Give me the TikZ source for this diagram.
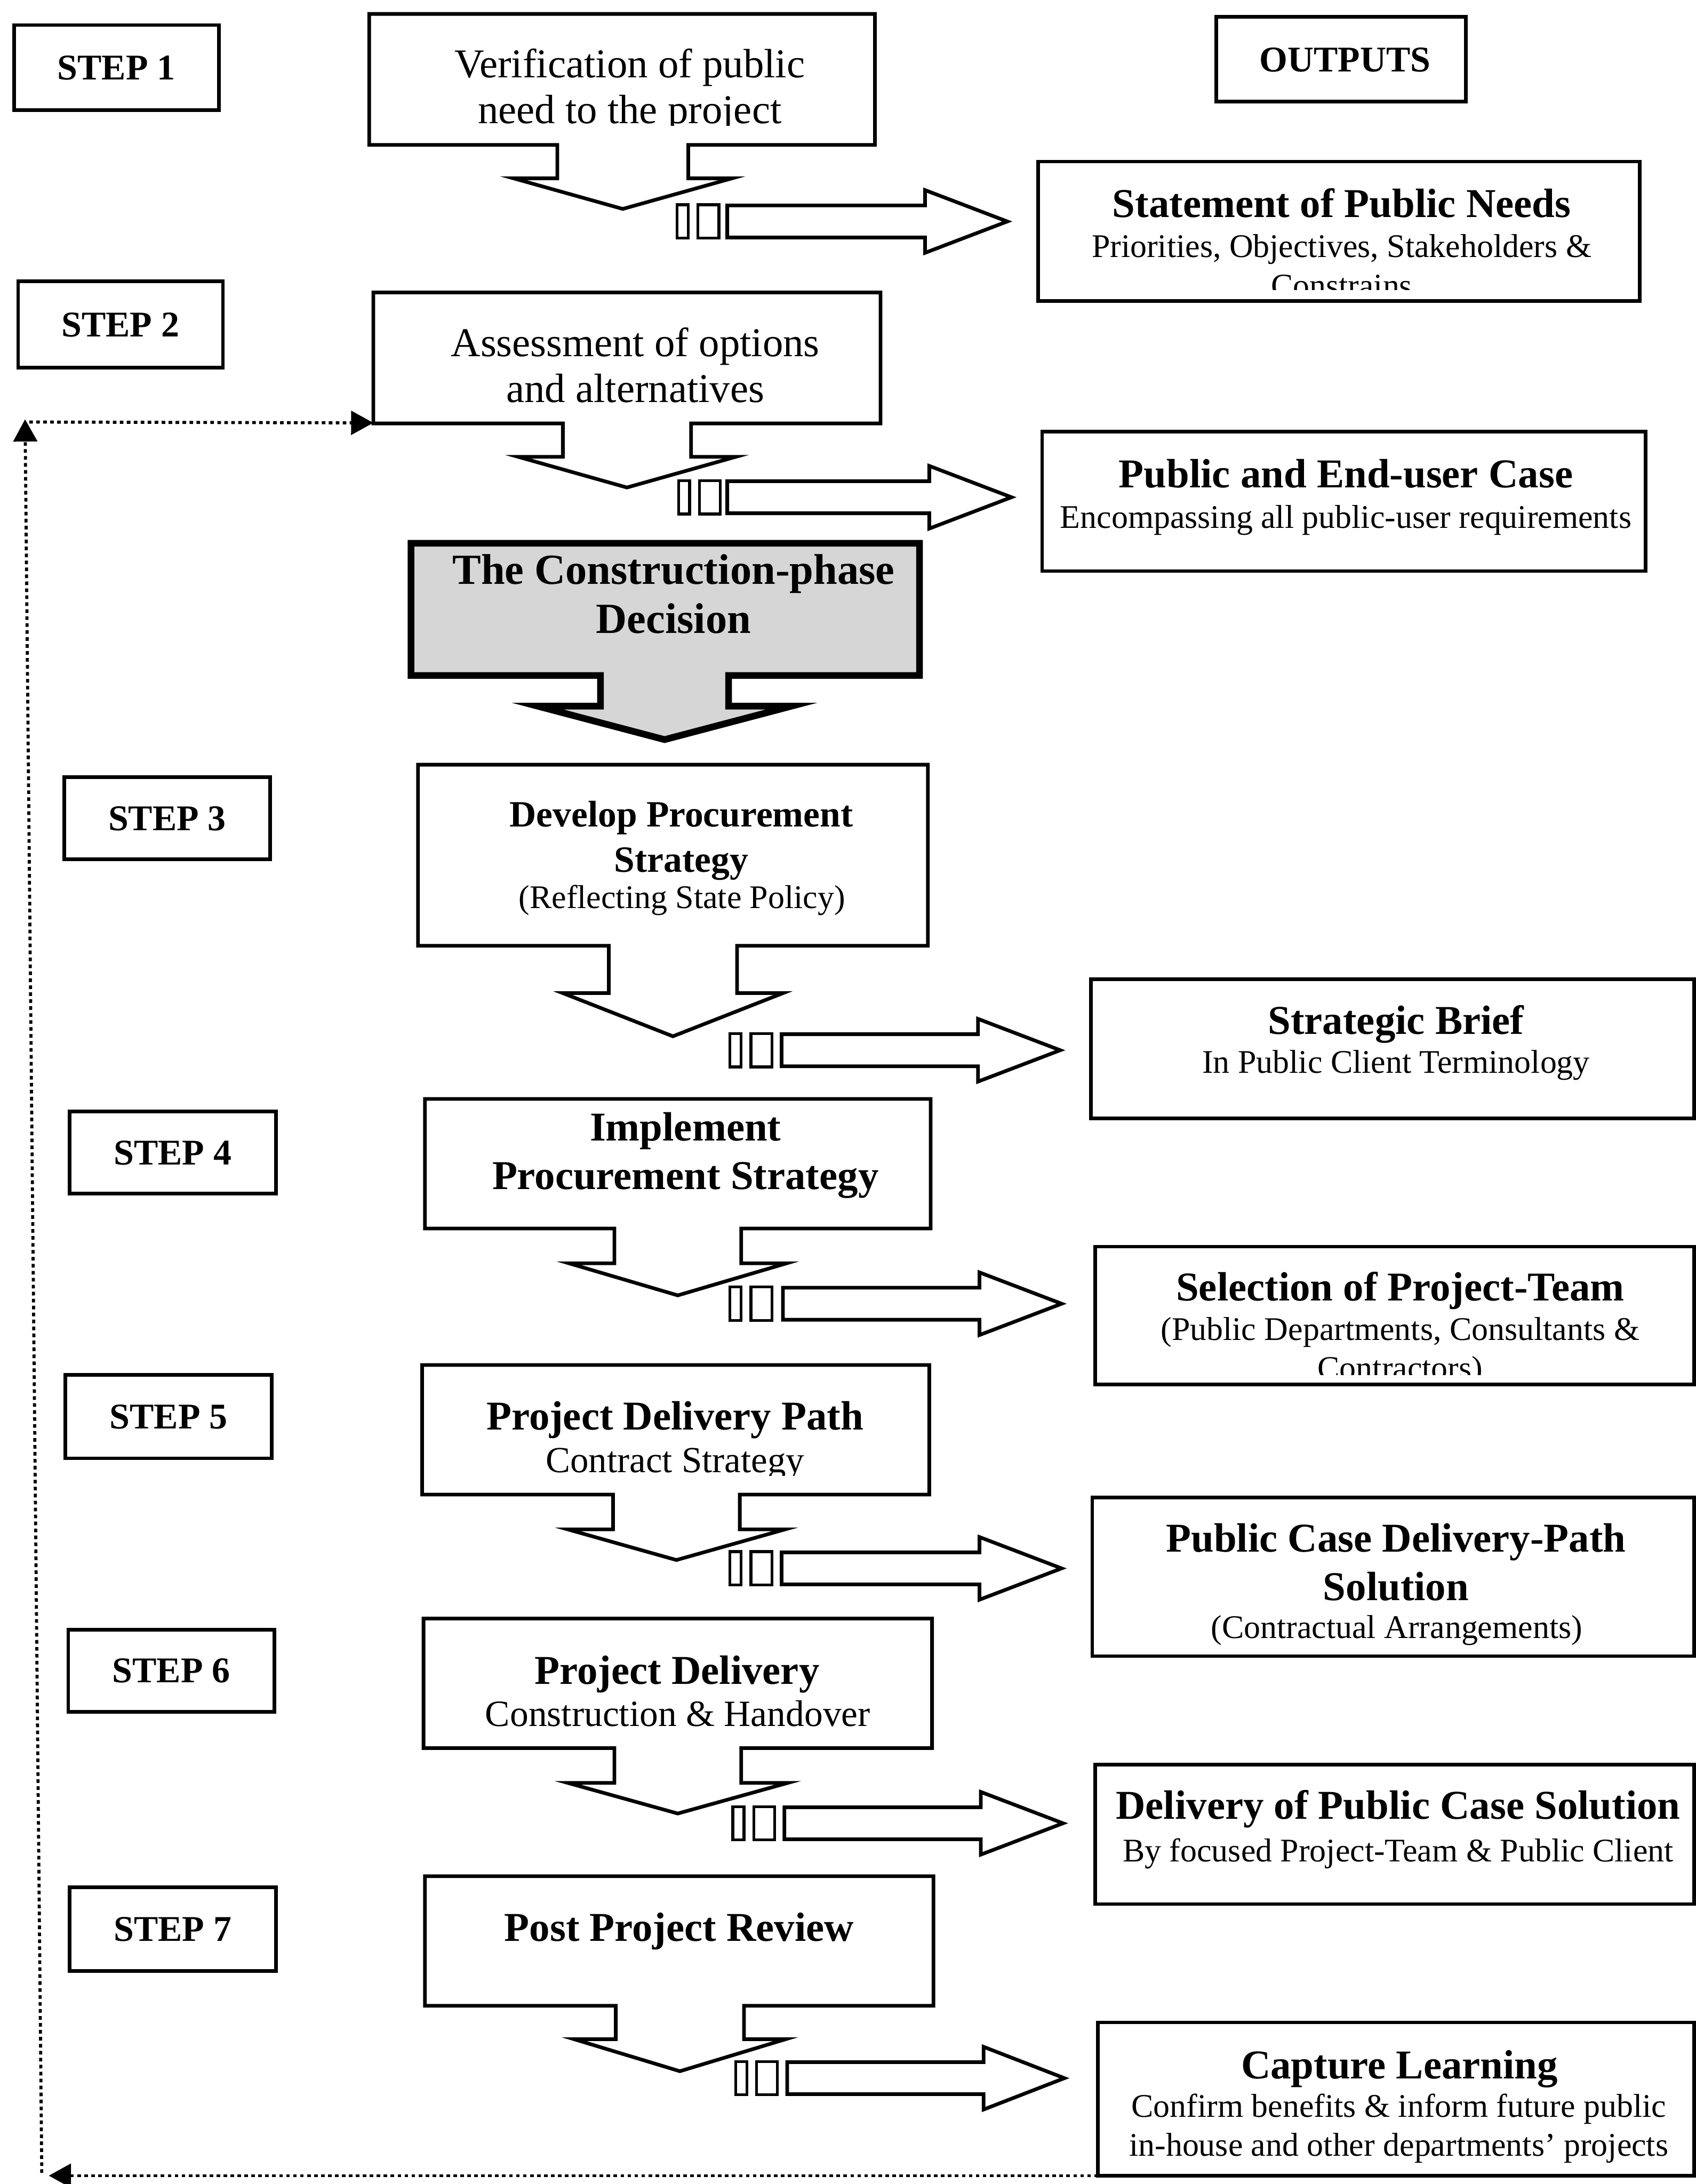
\documentclass[tikz,border=0pt]{standalone}
\usepackage{fontspec}
\setmainfont{Liberation Serif}
\usetikzlibrary{arrows.meta,fit}

% font size helper
\newcommand\fsz[1]{\fontsize{#1}{#1}\selectfont}

% a process box whose bottom edge turns into a downward block arrow
% #1 style, #2 left, #3 right, #4 top, #5 bottom, #6 arrow axis x,
% #7 wing y, #8 tip y, #9 stem half width; \winghalf = half span of the head
\def\winghalf{78}
\newcommand\flowbox[9]{%
  \draw[#1] (#2,#4) -- (#3,#4) -- (#3,#5) -- ({#6+#9},#5) -- ({#6+#9},#7)
    -- ({#6+\winghalf},#7) -- (#6,#8) -- ({#6-\winghalf},#7) -- ({#6-#9},#7)
    -- ({#6-#9},#5) -- (#2,#5) -- cycle;}

% two small bars followed by a block arrow pointing right
% #1 shaft start x, #2 head back x, #3 tip x, #4 axis y, #5 first bar left x
\newcommand\outarrow[5]{%
  \draw[barline] (#5,{#4-12}) rectangle ({#5+8},{#4+12});
  \draw[barline] ({#5+15},{#4-12}) rectangle ({#5+30},{#4+12});
  \draw[boxline] (#1,{#4-11.5}) -- (#2,{#4-11.5}) -- (#2,{#4-22.5}) -- (#3,#4)
    -- (#2,{#4+22.5}) -- (#2,{#4+11.5}) -- (#1,{#4+11.5}) -- cycle;}

\tikzset{
  every node/.style={inner sep=0pt, outer sep=0pt},
  boxline/.style={draw=black, line width=1.3pt, line join=miter, fill=white},
  barline/.style={draw=black, line width=1pt, fill=white},
  keybox/.style={draw=black, line width=2.4pt, line join=miter, fill=black!16},
  obox/.style={draw=black, line width=1.3pt, fill=white},
  stepbox/.style={draw=black, line width=1.3pt, fill=white},
  stp/.style={anchor=base, font=\fsz{13}\bfseries},
  big/.style={anchor=base, font=\fsz{14.7}},
  ttl/.style={anchor=base, font=\fsz{14.7}\bfseries},
  sub/.style={anchor=base, font=\fsz{11.85}},
  fb/.style={line width=1.1pt, dash pattern=on 1.3pt off 1.2pt},
  fbtip/.style={-{Triangle[length=8pt,width=8.5pt]}},
}

\begin{document}
\begin{tikzpicture}[x=0.5pt, y=-0.5pt]
\fill[white] (0,0) rectangle (1217,1568);
\useasboundingbox (0,0) rectangle (1217,1568);

% ---------- step labels ----------
\node[stepbox, fit={(10,18) (157,79)}] (s1) {};
\node[stepbox, fit={(13,202) (160,264)}] (s2) {};
\node[stepbox, fit={(46,558) (194,617)}] (s3) {};
\node[stepbox, fit={(50,798) (198,857)}] (s4) {};
\node[stepbox, fit={(47,987) (195,1047)}] (s5) {};
\node[stepbox, fit={(49,1170) (197,1229)}] (s6) {};
\node[stepbox, fit={(50,1355) (198,1415)}] (s7) {};
\node[stp] (s1t) at (83.5,57.1) {STEP 1};
\node[stp] (s2t) at (86.5,241.6) {STEP 2};
\node[stp] (s3t) at (120,596.1) {STEP 3};
\node[stp] (s4t) at (124,836.1) {STEP 4};
\node[stp] (s5t) at (121,1025.6) {STEP 5};
\node[stp] (s6t) at (123,1208.1) {STEP 6};
\node[stp] (s7t) at (124,1393.6) {STEP 7};

% ---------- process column ----------
\def\winghalf{78.5}
\flowbox{boxline}{265}{628}{10}{104}{447}{128}{150}{47}
\def\winghalf{78}
\flowbox{boxline}{268}{632}{210}{304}{450}{328}{350}{46}
\def\winghalf{91}
\flowbox{keybox}{295}{660}{390}{485}{477}{507}{531}{46}
\def\winghalf{79}
\flowbox{boxline}{300}{666}{549}{679}{483}{713}{744}{46}
\def\winghalf{78}
\flowbox{boxline}{305}{668}{789}{882}{486.5}{907}{930}{45.5}
\flowbox{boxline}{303}{667}{980}{1073}{485.5}{1098}{1120}{45.5}
\def\winghalf{79}
\flowbox{boxline}{304}{669}{1162}{1255}{486.5}{1280}{1302}{45.5}
\def\winghalf{76}
\flowbox{boxline}{305}{670}{1347}{1440}{488}{1464}{1487}{46}

\node[big] (v1) at (452,55.8) {Verification of public};
\begin{scope}
  \clip (266,11) rectangle (627,90);
  \node[big] (v2) at (452,88.6) {need to the project};
\end{scope}
\node[big] (a1) at (456,256) {Assessment of options};
\node[big] (a2) at (456,289) {and alternatives};
\node[anchor=base, font=\fsz{15.4}\bfseries] (c1) at (483.5,419.5) {The Construction-phase};
\node[anchor=base, font=\fsz{15.4}\bfseries] (c2) at (483.5,454.5) {Decision};
\node[anchor=base, font=\fsz{13.3}\bfseries] (d1) at (489,593.7) {Develop Procurement};
\node[anchor=base, font=\fsz{13.3}\bfseries] (d2) at (489,626) {Strategy};
\node[sub] (d3) at (489.5,652) {(Reflecting State Policy)};
\node[ttl] (i1) at (492,819) {Implement};
\node[ttl] (i2) at (492,853.7) {Procurement Strategy};
\node[ttl] (p1) at (484.5,1026.5) {Project Delivery Path};
\begin{scope}
  \clip (304,981) rectangle (666,1059.5);
  \node[anchor=base, font=\fsz{13.2}] (p2) at (484.5,1057) {Contract Strategy};
\end{scope}
\node[ttl] (q1) at (486,1209) {Project Delivery};
\node[anchor=base, font=\fsz{13.3}] (q2) at (486.5,1239.5) {Construction \& Handover};
\node[ttl] (r1) at (487.5,1393.5) {Post Project Review};

% ---------- hand-over arrows ----------
\outarrow{522}{664}{723}{159}{486}
\outarrow{522}{667}{726}{357}{487}
\outarrow{561}{702}{761}{754}{524}
\outarrow{562}{703}{762}{936}{524}
\outarrow{561}{703}{762}{1126}{524}
\outarrow{563}{704}{763}{1309}{526}
\outarrow{565}{706}{764}{1492}{528}

% ---------- outputs column ----------
\node[obox, fit={(873,12) (1052,73)}] (out) {};
\node[stp] (outt) at (965.5,51.6) {OUTPUTS};

\node[obox, fit={(745,116) (1177,216)}] (o1) {};
\node[ttl] (o1t) at (963,156) {Statement of Public Needs};
\node[sub] (o1s) at (963,184.7) {Priorities, Objectives, Stakeholders \&};
\begin{scope}
  \clip (746,117) rectangle (1176,208);
  \node[sub] (o1c) at (963,213) {Constrains};
\end{scope}

\node[obox, fit={(748,310) (1181,410)}] (o2) {};
\node[ttl] (o2t) at (966,350) {Public and End-user Case};
\node[sub] (o2s) at (966,379) {Encompassing all public-user requirements};

\node[obox, fit={(783,703) (1216,803)}] (o3) {};
\node[ttl] (o3t) at (1002,742.5) {Strategic Brief};
\node[sub] (o3s) at (1002,770.5) {In Public Client Terminology};

\node[obox, fit={(786,895) (1216,994)}] (o4) {};
\node[ttl] (o4t) at (1005,934) {Selection of Project-Team};
\node[sub] (o4s) at (1005,962) {(Public Departments, Consultants \&};
\begin{scope}
  \clip (787,896) rectangle (1215,987);
  \node[sub] (o4c) at (1005,990) {Contractors)};
\end{scope}

\node[obox, fit={(784,1075) (1216,1189)}] (o5) {};
\node[ttl] (o5t) at (1002,1114) {Public Case Delivery-Path};
\node[ttl] (o5u) at (1002,1149) {Solution};
\node[sub] (o5s) at (1002.5,1176) {(Contractual Arrangements)};

\node[obox, fit={(786,1267) (1216,1367)}] (o6) {};
\node[ttl] (o6t) at (1003.5,1306) {Delivery of Public Case Solution};
\node[sub] (o6s) at (1003.5,1336.6) {By focused Project-Team \& Public Client};

\node[obox, fit={(788,1452) (1216,1562)}] (o7) {};
\node[ttl] (o7t) at (1004.5,1492.3) {Capture Learning};
\node[sub] (o7s) at (1004,1520) {Confirm benefits \& inform future public};
\node[sub] (o7u) at (1004,1548) {in-house and other departments' projects};

% ---------- feedback loop ----------
\coordinate (fbleft) at (35,1562);
\coordinate (fbbottom) at (30,1560);
\coordinate (fbcorner) at (18,301);
\coordinate (fbstart) at (21,303);
\coordinate (asw) at (268,303.6);
\draw[fb, fbtip] (o7.south west) -- (fbleft);
\draw[fb, fbtip] (fbbottom) -- (fbcorner);
\draw[fb, fbtip] (fbstart) -- (asw);
\end{tikzpicture}
\end{document}
